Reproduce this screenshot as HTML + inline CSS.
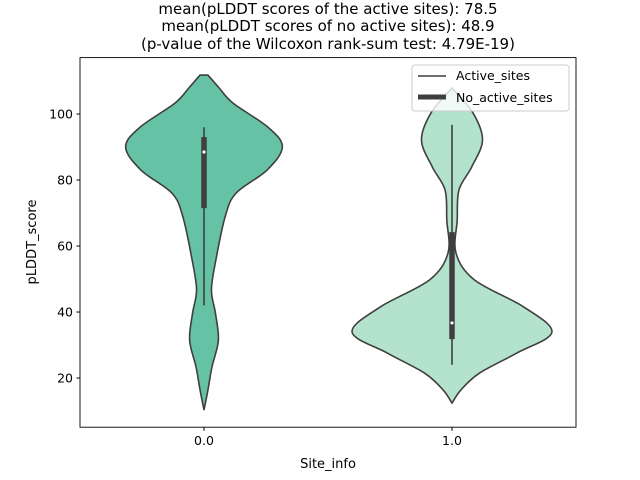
<!DOCTYPE html>
<html><head><meta charset="utf-8"><style>
html,body{margin:0;padding:0;background:#fff;}
svg{display:block;font-family:"DejaVu Sans","Liberation Sans",sans-serif;}
</style></head><body>
<svg id="chart" width="640" height="480" viewBox="0 0 640 480">
<g font-size="15" text-anchor="middle" fill="#000">
<text x="328" y="14">mean(pLDDT scores of the active sites): 78.5</text>
<text x="328" y="31">mean(pLDDT scores of no active sites): 48.9</text>
<text x="328" y="49">(p-value of the Wilcoxon rank-sum test: 4.79E-19)</text>
</g>
<g id="plot"></g>
<rect x="80" y="57.6" width="496" height="369.6" fill="none" stroke="#000" stroke-width="0.9"/>
<text x="328" y="468" font-size="13" text-anchor="middle">Site_info</text>
<text transform="translate(36,242) rotate(-90)" font-size="13" text-anchor="middle">pLDDT_score</text>
<g>
<rect x="412" y="65" width="157" height="46" rx="3" fill="#fff" fill-opacity="0.8" stroke="#ccc"/>
<line x1="418" y1="76" x2="446" y2="76" stroke="#3f3f3f" stroke-width="1.5"/>
<text x="456" y="80" font-size="12.5">Active_sites</text>
<line x1="418" y1="97" x2="446" y2="97" stroke="#3f3f3f" stroke-width="5"/>
<text x="456" y="102" font-size="12.5">No_active_sites</text>
</g>
</svg>
<script>
const categories = ["0.0", "1.0"];
const yTicks = [20, 40, 60, 80, 100];
const colors = ["#66c2a5", "#b3e2cd"];
// density profile: y values and half-width (x units)
const kdeY0 = [111.8, 108, 103.3, 96, 90, 83, 76, 68.8, 55.8, 46.7, 39.7, 31.5, 23.3, 16.4, 10.3];
const kdeW0 = [0.016, 0.06, 0.117, 0.258, 0.316, 0.254, 0.129, 0.085, 0.048, 0.030, 0.046, 0.058, 0.032, 0.016, 0];
const kdeY1 = [107.9, 100.3, 92.1, 83.9, 77, 67.9, 57.9, 49.7, 41.5, 33.9, 27.6, 21.5, 16.4, 12.4];
const kdeW1 = [0, 0.085, 0.123, 0.079, 0.028, 0.021, 0.016, 0.091, 0.29, 0.403, 0.262, 0.111, 0.036, 0];
const whiskerLow = [42, 24];
const whiskerHigh = [96, 96.7];
const q1 = [71.5, 31.8];
const q3 = [93, 64.2];
const medians = [88.5, 36.7];

const X0 = 80, X1 = 576, Y0 = 427.2, Y1 = 57.6;
const xMin = -0.5, xMax = 1.5, yMin = 5.1, yMax = 117.1;
const sx = v => X0 + (v - xMin) / (xMax - xMin) * (X1 - X0);
const sy = v => Y0 - (v - yMin) / (yMax - yMin) * (Y0 - Y1);
const NS = "http://www.w3.org/2000/svg";
const plot = document.getElementById("plot");

function smooth(pts) {
  let d = "M" + pts[0][0] + "," + pts[0][1];
  for (let i = 0; i < pts.length - 1; i++) {
    const p0 = pts[Math.max(i - 1, 0)], p1 = pts[i], p2 = pts[i + 1], p3 = pts[Math.min(i + 2, pts.length - 1)];
    const c1 = [p1[0] + (p2[0] - p0[0]) / 6, p1[1] + (p2[1] - p0[1]) / 6];
    const c2 = [p2[0] - (p3[0] - p1[0]) / 6, p2[1] - (p3[1] - p1[1]) / 6];
    d += " C" + c1[0] + "," + c1[1] + " " + c2[0] + "," + c2[1] + " " + p2[0] + "," + p2[1];
  }
  return d;
}

// ticks
yTicks.forEach(t => {
  const ln = document.createElementNS(NS, "line");
  ln.setAttribute("x1", X0 - 3.5); ln.setAttribute("x2", X0);
  ln.setAttribute("y1", sy(t)); ln.setAttribute("y2", sy(t));
  ln.setAttribute("stroke", "#000");
  
  
  plot.appendChild(ln);
  const tx = document.createElementNS(NS, "text");
  tx.setAttribute("x", X0 - 7); tx.setAttribute("y", sy(t) + 4.5);
  tx.setAttribute("text-anchor", "end"); tx.setAttribute("font-size", "12.5");
  tx.textContent = t;
  
  
  plot.appendChild(tx);
});
categories.forEach((c, i) => {
  const ln = document.createElementNS(NS, "line");
  ln.setAttribute("x1", sx(i)); ln.setAttribute("x2", sx(i));
  ln.setAttribute("y1", Y0); ln.setAttribute("y2", Y0 + 3.5);
  ln.setAttribute("stroke", "#000");
  
  
  plot.appendChild(ln);
  const tx = document.createElementNS(NS, "text");
  tx.setAttribute("x", sx(i)); tx.setAttribute("y", Y0 + 18);
  tx.setAttribute("text-anchor", "middle"); tx.setAttribute("font-size", "12.5");
  tx.textContent = c;
  
  
  plot.appendChild(tx);
});

const profiles = [[kdeY0, kdeW0], [kdeY1, kdeW1]];
profiles.forEach((pr, i) => {
  const [ys, ws] = pr;
  const right = ys.map((y, k) => [sx(i + ws[k]), sy(y)]);
  const left = ys.map((y, k) => [sx(i - ws[k]), sy(y)]).reverse();
  let d = smooth(right) + " L" + left[0][0] + "," + left[0][1] + smooth(left).replace(/^M[^ C]+/, "") + " Z";
  const p = document.createElementNS(NS, "path");
  p.setAttribute("d", d);
  p.setAttribute("fill", colors[i]);
  p.setAttribute("stroke", "#3f3f3f");
  p.setAttribute("stroke-width", "1.6");
  
  
  plot.appendChild(p);

  const w = document.createElementNS(NS, "line");
  w.setAttribute("x1", sx(i)); w.setAttribute("x2", sx(i));
  w.setAttribute("y1", sy(whiskerLow[i])); w.setAttribute("y2", sy(whiskerHigh[i]));
  w.setAttribute("stroke", "#3f3f3f"); w.setAttribute("stroke-width", "1.6");
  
  
  plot.appendChild(w);

  const b = document.createElementNS(NS, "line");
  b.setAttribute("x1", sx(i)); b.setAttribute("x2", sx(i));
  b.setAttribute("y1", sy(q1[i])); b.setAttribute("y2", sy(q3[i]));
  b.setAttribute("stroke", "#3f3f3f"); b.setAttribute("stroke-width", "5.5");
  
  
  plot.appendChild(b);

  const m = document.createElementNS(NS, "circle");
  m.setAttribute("cx", sx(i)); m.setAttribute("cy", sy(medians[i]));
  m.setAttribute("r", "1.6"); m.setAttribute("fill", "#fff");
  
  
  plot.appendChild(m);
});
</script>
</body></html>
